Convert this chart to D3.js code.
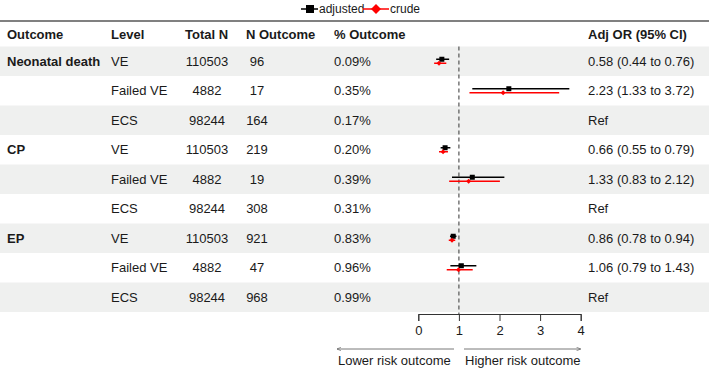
<!DOCTYPE html>
<meta charset="utf-8" />
<script src="https://d3js.org/d3.v7.min.js"></script>
<style>
  body { margin: 0; background: #fff; }
  text { font-family: "Liberation Sans", Arial, sans-serif; fill: #1a1a1a; }
</style>
<div id="my_dataviz"></div>
<script>
  // table data
  const outcomes = ["Neonatal death", "", "", "CP", "", "", "EP", "", ""];
  const levels = ["VE", "Failed VE", "ECS", "VE", "Failed VE", "ECS", "VE", "Failed VE", "ECS"];
  const totalN = ["110503", "4882", "98244", "110503", "4882", "98244", "110503", "4882", "98244"];
  const nOutcome = ["96", "17", "164", "219", "19", "308", "921", "47", "968"];
  const pctOutcome = ["0.09%", "0.35%", "0.17%", "0.20%", "0.39%", "0.31%", "0.83%", "0.96%", "0.99%"];
  const orLabels = ["0.58 (0.44 to 0.76)", "2.23 (1.33 to 3.72)", "Ref",
                    "0.66 (0.55 to 0.79)", "1.33 (0.83 to 2.12)", "Ref",
                    "0.86 (0.78 to 0.94)", "1.06 (0.79 to 1.43)", "Ref"];

  // forest values (null = reference row)
  const adjEst = [0.58, 2.23, null, 0.66, 1.33, null, 0.86, 1.06, null];
  const adjLow = [0.44, 1.33, null, 0.55, 0.83, null, 0.78, 0.79, null];
  const adjHigh = [0.76, 3.72, null, 0.79, 2.12, null, 0.94, 1.43, null];
  const crudeEst = [0.51, 2.09, null, 0.61, 1.24, null, 0.83, 0.99, null];
  const crudeLow = [0.39, 1.26, null, 0.51, 0.76, null, 0.75, 0.70, null];
  const crudeHigh = [0.69, 3.47, null, 0.73, 2.01, null, 0.91, 1.34, null];

  const xTicks = [0, 1, 2, 3, 4];

  const width = 709, height = 370;
  const rowTop = 46.5, rowH = 29.5;
  const headerY = 34;

  const svg = d3.select("#my_dataviz").append("svg")
    .attr("width", width).attr("height", height);

  const x = d3.scaleLinear().domain([0, 4]).range([418.3, 580.7]);
  const rowY = (i) => rowTop + rowH * i + rowH / 2;

  // row shading
  svg.selectAll(".band")
    .data(levels)
    .join("rect")
    .attr("class", "band")
    .attr("x", 0)
    .attr("y", (d, i) => rowTop + rowH * i)
    .attr("width", width)
    .attr("height", rowH)
    .attr("fill", (d, i) => (i % 2 === 0 ? "#eff0ef" : "#ffffff"));

  // top rule
  svg.append("line")
    .attr("x1", 0).attr("x2", width)
    .attr("y1", 21).attr("y2", 21)
    .attr("stroke", "#808080").attr("stroke-width", 2);

  // header
  const headers = [
    { t: "Outcome", x: 7, a: "start" },
    { t: "Level", x: 111, a: "start" },
    { t: "Total N", x: 185, a: "start" },
    { t: "N Outcome", x: 246, a: "start" },
    { t: "% Outcome", x: 334, a: "start" },
    { t: "Adj OR (95% CI)", x: 588, a: "start" }
  ];
  svg.selectAll(".hdr")
    .data(headers)
    .join("text")
    .attr("class", "hdr")
    .attr("x", (d) => d.x)
    .attr("y", headerY)
    .attr("dy", "0.35em")
    .attr("text-anchor", (d) => d.a)
    .style("font-size", "13px")
    .style("font-weight", "bold")
    .text((d) => d.t);

  // table columns
  const cols = [
    { data: outcomes, x: 7, a: "start", bold: true },
    { data: levels, x: 111, a: "start" },
    { data: totalN, x: 207, a: "middle" },
    { data: nOutcome, x: 257, a: "middle" },
    { data: pctOutcome, x: 334, a: "start" },
    { data: orLabels, x: 588, a: "start" }
  ];
  cols.forEach(function (c) {
    svg.append("g")
      .selectAll("text")
      .data(c.data)
      .join("text")
      .attr("x", c.x)
      .attr("y", (d, i) => rowY(i))
      .attr("dy", "0.35em")
      .attr("text-anchor", c.a)
      .style("font-size", "13px")
      .style("font-weight", c.bold ? "bold" : "normal")
      .text((d) => d);
  });

  // reference line
  const axisY = 314;
  svg.append("line")
    .attr("x1", x(1)).attr("x2", x(1))
    .attr("y1", rowTop).attr("y2", axisY)
    .attr("stroke", "#555").attr("stroke-width", 1.2)
    .attr("stroke-dasharray", "4,3");

  // CI series
  const series = [
    { est: adjEst, lo: adjLow, hi: adjHigh, color: "#000000", off: -2, shape: "square" },
    { est: crudeEst, lo: crudeLow, hi: crudeHigh, color: "#ff0000", off: 2, shape: "diamond" }
  ];
  series.forEach(function (s) {
    const idx = d3.range(s.est.length).filter((i) => s.est[i] !== null);
    const g = svg.append("g");
    g.selectAll("line")
      .data(idx)
      .join("line")
      .attr("x1", (i) => x(s.lo[i]))
      .attr("x2", (i) => x(s.hi[i]))
      .attr("y1", (i) => rowY(i) + s.off)
      .attr("y2", (i) => rowY(i) + s.off)
      .attr("stroke", s.color)
      .attr("stroke-width", 1.5);
    if (s.shape === "square") {
      g.selectAll("rect")
        .data(idx)
        .join("rect")
        .attr("x", (i) => x(s.est[i]) - 2.5)
        .attr("y", (i) => rowY(i) + s.off - 2.5)
        .attr("width", 5).attr("height", 5)
        .attr("fill", s.color);
    } else {
      g.selectAll("path")
        .data(idx)
        .join("path")
        .attr("transform", (i) => `translate(${x(s.est[i])},${rowY(i) + s.off})`)
        .attr("d", "M0,-2.5L2.5,0L0,2.5L-2.5,0Z")
        .attr("fill", s.color);
    }
  });

  // x axis
  const xAxis = svg.append("g")
    .attr("transform", `translate(0,${axisY})`)
    .call(d3.axisBottom(x).tickValues(xTicks).tickFormat(d3.format("d")).tickSizeOuter(0).tickSize(7));
  xAxis.select(".domain").attr("stroke", "#333");
  xAxis.selectAll(".tick line").attr("stroke", "#333");
  xAxis.selectAll(".tick text")
    .style("font-family", "Liberation Sans, Arial, sans-serif")
    .style("font-size", "13px")
    .attr("fill", "#1a1a1a")
    .attr("y", 12);

  // direction arrows
  const defs = svg.append("defs");
  defs.append("marker")
    .attr("id", "arr")
    .attr("viewBox", "0 0 10 10")
    .attr("refX", 9).attr("refY", 5)
    .attr("markerWidth", 6).attr("markerHeight", 6)
    .attr("orient", "auto-start-reverse")
    .append("path")
    .attr("d", "M0,1L9,5L0,9")
    .attr("fill", "none")
    .attr("stroke", "#555")
    .attr("stroke-width", 1.2);

  const arrowY = 349;
  svg.append("line")
    .attr("x1", 454).attr("x2", 337)
    .attr("y1", arrowY).attr("y2", arrowY)
    .attr("stroke", "#555").attr("stroke-width", 0.8)
    .attr("marker-end", "url(#arr)");
  svg.append("line")
    .attr("x1", 464).attr("x2", x(4))
    .attr("y1", arrowY).attr("y2", arrowY)
    .attr("stroke", "#555").attr("stroke-width", 0.8)
    .attr("marker-end", "url(#arr)");
  svg.append("text")
    .attr("x", 338).attr("y", 360).attr("dy", "0.35em")
    .style("font-size", "13px").text("Lower risk outcome");
  svg.append("text")
    .attr("x", 465).attr("y", 360).attr("dy", "0.35em")
    .style("font-size", "13px").text("Higher risk outcome");

  // legend
  const legY = 9;
  const leg = svg.append("g");
  leg.append("line").attr("x1", 301).attr("x2", 318).attr("y1", legY).attr("y2", legY)
    .attr("stroke", "#000").attr("stroke-width", 1.5);
  leg.append("rect").attr("x", 306).attr("y", legY - 4).attr("width", 8).attr("height", 8).attr("fill", "#000");
  leg.append("text").attr("x", 319).attr("y", legY).attr("dy", "0.35em")
    .style("font-size", "12px").text("adjusted");
  leg.append("line").attr("x1", 363).attr("x2", 389).attr("y1", legY).attr("y2", legY)
    .attr("stroke", "#ff0000").attr("stroke-width", 1.5);
  leg.append("path").attr("transform", `translate(376,${legY})`).attr("d", "M0,-5L5,0L0,5L-5,0Z")
    .attr("fill", "#ff0000");
  leg.append("text").attr("x", 390).attr("y", legY).attr("dy", "0.35em")
    .style("font-size", "12px").text("crude");
</script>
